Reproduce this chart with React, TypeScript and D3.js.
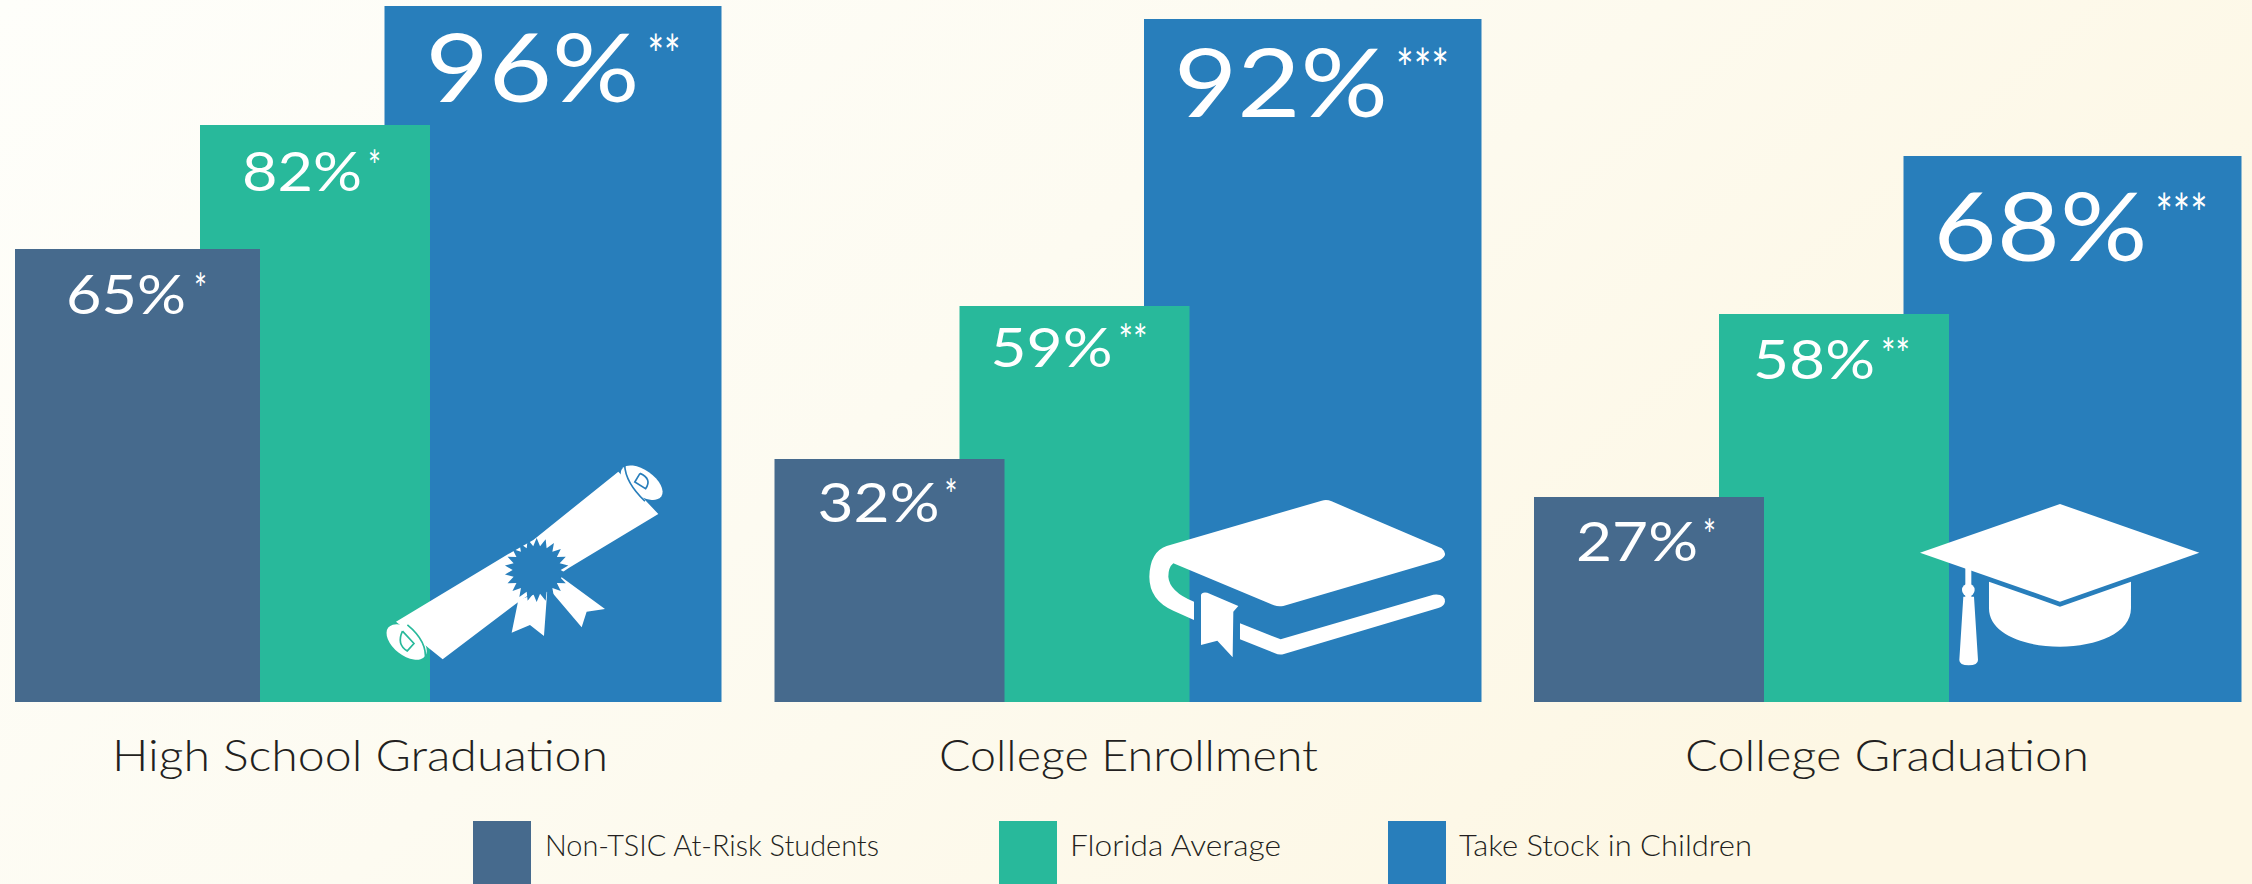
import React from "react";
import * as d3 from "d3";

const W = 2252, H = 884;
const categories = ["High School Graduation", "College Enrollment", "College Graduation"];
const seriesNames = ["Non-TSIC At-Risk Students", "Florida Average", "Take Stock in Children"];
const nonTsic = [65, 32, 27];
const florida = [82, 59, 58];
const takeStock = [96, 92, 68];
const nonTsicStars = ["*", "*", "*"];
const floridaStars = ["*", "**", "**"];
const takeStockStars = ["**", "***", "***"];

const colors = ["#466A8D", "#28B99B", "#287EBB"];

// The infographic's bars are not drawn to a strictly linear scale: this piecewise scale follows its heights.
const y = d3.scaleLinear()
  .domain([0, 27, 32, 58, 59, 65, 68, 82, 92, 96])
  .range([702, 497, 459, 314, 306, 249, 156, 125, 19, 6]);
const groupX = d3.scalePoint<string>().domain(categories).range([15, 1534]);

const barOffset = [0, 185, 369.5];
const barWidth = [[245, 230, 230], [230, 230, 230], [337, 337.5, 338]];

// label layout per series / group: [x offset from bar, baseline offset from top, digit font size, label width, star x, star width, star top offset]
const labelLayout = [
  [[51, 65, 54, 120, 179, 13, 24], [43, 63, 54, 122, 170, 13, 20], [42, 64, 54, 122, 169, 13, 22]],
  [[42, 66, 54, 120, 168, 13, 25], [31, 61, 54, 122, 159, 29, 18], [34, 65, 54, 122, 162, 29, 24]],
  [[41, 95.5, 95, 214, 263, 33, 28], [30, 98, 95, 214, 252, 53, 29], [30, 105, 95, 214, 252, 52, 37]],
];
const catLabel = [[112, 496], [939, 379], [1685, 404]];
const legendSwatch = [473, 999, 1388];
const legendText = [[545, 334], [1070, 211], [1459, 293]];

const FONT = "Lato, 'Open Sans', sans-serif";

function star(r0: number, r1: number, n: number) {
  const pts = d3.range(n * 2).map((i) => [i * Math.PI / n, i % 2 ? r1 : r0] as [number, number]);
  return d3.lineRadial().curve(d3.curveLinearClosed)(pts) as string;
}

function Diploma() {
  return (
    <g transform="translate(360,440) scale(0.3333)">
      <path fill="#fff" d="M108,545 L440,345 L520,300 L775,95 L895,222 L625,385 L470,490 L248,658 Z" />
      <path fill="#fff" d="M475,480 L455,578 L510,555 L552,588 L562,450 Z" />
      <path fill="#fff" d="M570,450 L665,562 L680,515 L735,507 L605,412 Z" />
      <g transform="translate(530,390)"><path fill={colors[2]} d={star(96, 72, 22)} /></g>
      <g transform="translate(845,128) rotate(35)">
        <ellipse rx="72" ry="38" fill="#fff" />
        <path fill="none" stroke={colors[2]} strokeWidth="5" d="M-72,-14 Q-40,28 40,40 M-20,-20 Q20,-28 20,8 L-18,10 L-20,-20" />
      </g>
      <g transform="translate(140,606) rotate(38)">
        <ellipse rx="70" ry="40" fill="#fff" />
        <path fill="none" stroke={colors[1]} strokeWidth="5" d="M-30,-42 Q50,-40 78,10 M-30,-18 L20,-10 L18,20 Q-20,25 -30,-18" />
      </g>
    </g>
  );
}

function Book() {
  return (
    <g transform="translate(1130,480) scale(0.3333)" fill="#fff">
      <path d="M575,62 Q590,57 605,64 L935,205 Q958,225 930,240 L460,378 Q445,381 432,376 L130,250 Q115,262 115,290 Q118,335 192,365 L192,420 L130,392 Q58,360 58,290 Q60,215 110,198 Z" />
      <path d="M213,345 Q215,335 232,338 L325,378 L310,395 L308,532 L262,482 L213,495 Z" />
      <path d="M330,430 L452,478 L910,344 Q945,340 945,365 Q943,378 925,384 L462,522 Q448,526 435,520 L330,478 Z" />
    </g>
  );
}

function Cap() {
  return (
    <g transform="translate(1900,480) scale(0.3333)" fill="#fff">
      <path d="M60,218 L480,72 L898,218 L480,365 Z" />
      <path d="M267,305 L480,380 L693,305 L693,385 C693,460 590,500 480,500 C370,500 267,460 267,385 Z" />
      <path d="M196,262 L214,268 L214,350 L222,350 L234,540 Q234,556 206,556 Q178,556 178,540 L190,350 L196,350 Z" />
      <circle cx="205" cy="330" r="19" />
    </g>
  );
}

export default function App() {
  const values = [nonTsic, florida, takeStock];
  const stars = [nonTsicStars, floridaStars, takeStockStars];
  const drawOrder = [2, 1, 0];
  return (
    <svg width={W} height={H} viewBox={`0 0 ${W} ${H}`} style={{ position: "absolute", left: 0, top: 0, fontFamily: FONT }}>
      <defs>
        <linearGradient id="bg" x1="0" y1="0" x2="1" y2="0.45">
          <stop offset="0" stopColor="#FEFEFA" />
          <stop offset="0.5" stopColor="#FDFBF1" />
          <stop offset="1" stopColor="#FDF7E4" />
        </linearGradient>
      </defs>
      <rect width={W} height={H} fill="url(#bg)" />
      {categories.map((cat, g) => (
        <g key={cat}>
          {drawOrder.map((s) => {
            const x0 = (groupX(cat) as number) + barOffset[s];
            return (
              <rect key={s} x={x0} y={y(values[s][g])} width={barWidth[s][g]} height={y(0) - y(values[s][g])} fill={colors[s]} />
            );
          })}
          {drawOrder.map((s) => {
            const x0 = (groupX(cat) as number) + barOffset[s];
            const top = y(values[s][g]);
            const [dx, dy, fs, lw, sx, sw, st] = labelLayout[s][g];
            const starFs = s === 2 ? 54 : 42;
            return (
              <g key={s} fill="#fff">
                <text x={x0 + dx} y={top + dy} fontSize={fs} fontWeight={400} textLength={lw} lengthAdjust="spacingAndGlyphs">{values[s][g]}%</text>
                <text x={x0 + sx} y={top + st + starFs * 0.74} fontSize={starFs} fontWeight={400} textLength={sw} lengthAdjust="spacingAndGlyphs">{stars[s][g]}</text>
              </g>
            );
          })}
          <text x={catLabel[g][0]} y={771} fontSize={43} fontWeight={300} fill="#231F20" textLength={catLabel[g][1]} lengthAdjust="spacingAndGlyphs">{cat}</text>
        </g>
      ))}
      <Diploma />
      <Book />
      <Cap />
      {seriesNames.map((n, i) => (
        <g key={n}>
          <rect x={legendSwatch[i]} y={821} width={58} height={63} fill={colors[i]} />
          <text x={legendText[i][0]} y={856} fontSize={29} fontWeight={300} fill="#231F20" textLength={legendText[i][1]} lengthAdjust="spacingAndGlyphs">{n}</text>
        </g>
      ))}
    </svg>
  );
}
